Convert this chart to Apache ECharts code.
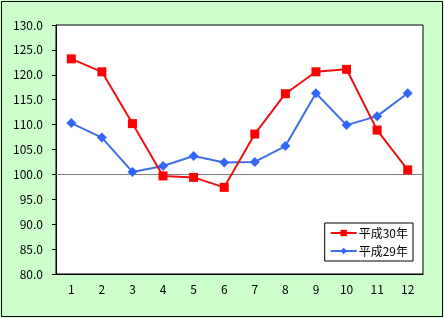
<!DOCTYPE html>
<html><head><meta charset="utf-8">
<script src="https://cdn.jsdelivr.net/npm/echarts@6/dist/echarts.min.js"></script>
<style>html,body{margin:0;padding:0;background:#fff}#c{width:444px;height:318px}</style>
</head><body><div id="c"></div>
<script>
const categories = ['1','2','3','4','5','6','7','8','9','10','11','12'];
const seriesNames = ['平成30年','平成29年'];
const h30 = [123.2,120.6,110.2,99.7,99.4,97.4,108.1,116.2,120.6,121.1,108.9,100.9];
const h29 = [110.3,107.4,100.5,101.7,103.7,102.4,102.5,105.7,116.3,109.9,111.7,116.3];
const yTicks = {min:80, max:130, interval:5};
const refLine = 100;

const font = '"Noto Sans CJK JP", "DejaVu Sans", sans-serif';
const chart = echarts.init(document.getElementById('c'), null, {renderer:'canvas'});
chart.setOption({
  backgroundColor:'#ccffcc',
  animation:false,
  graphic:[{type:'rect', silent:true, z:-1, shape:{x:1.5,y:1.5,width:441,height:315}, style:{fill:'none',stroke:'#000',lineWidth:1}}],
  grid:{left:56, top:25, width:367, height:249, show:true, backgroundColor:'#fff', borderColor:'#000', borderWidth:1},
  legend:{
    right:31, top:223, orient:'vertical', itemGap:6, itemWidth:26, itemHeight:8,
    backgroundColor:'#fff', borderColor:'#000', borderWidth:1, padding:[4,5,4,5],
    textStyle:{fontFamily:font, fontSize:12, color:'#000', padding:[0,0,0,-3]},
    data:seriesNames
  },
  xAxis:{type:'category', data:categories, boundaryGap:true,
    axisLine:{lineStyle:{color:'#000'}}, axisTick:{show:false},
    axisLabel:{color:'#000', fontFamily:font, fontSize:12, margin:9}},
  yAxis:{type:'value', min:yTicks.min, max:yTicks.max, interval:yTicks.interval,
    axisLine:{show:true, lineStyle:{color:'#000'}}, axisTick:{show:true, length:4, lineStyle:{color:'#000'}},
    splitLine:{show:false},
    axisLabel:{color:'#000', fontFamily:font, fontSize:12, margin:13, formatter:v=>v.toFixed(1)}},
  series:[
    {name:seriesNames[0], type:'line', data:h30, symbol:'rect', symbolSize:9,
     lineStyle:{color:'#ee1111', width:2}, itemStyle:{color:'#ff0000'}, z:3,
     markLine:{silent:true, symbol:'none', label:{show:false}, lineStyle:{color:'#808080', type:'solid', width:1},
       data:[{yAxis:refLine}], z:1}},
    {name:seriesNames[1], type:'line', data:h29, symbol:'diamond', symbolSize:10,
     lineStyle:{color:'#3f6fe6', width:2}, itemStyle:{color:'#3366ff'}, z:2}
  ]
});
</script></body></html>
